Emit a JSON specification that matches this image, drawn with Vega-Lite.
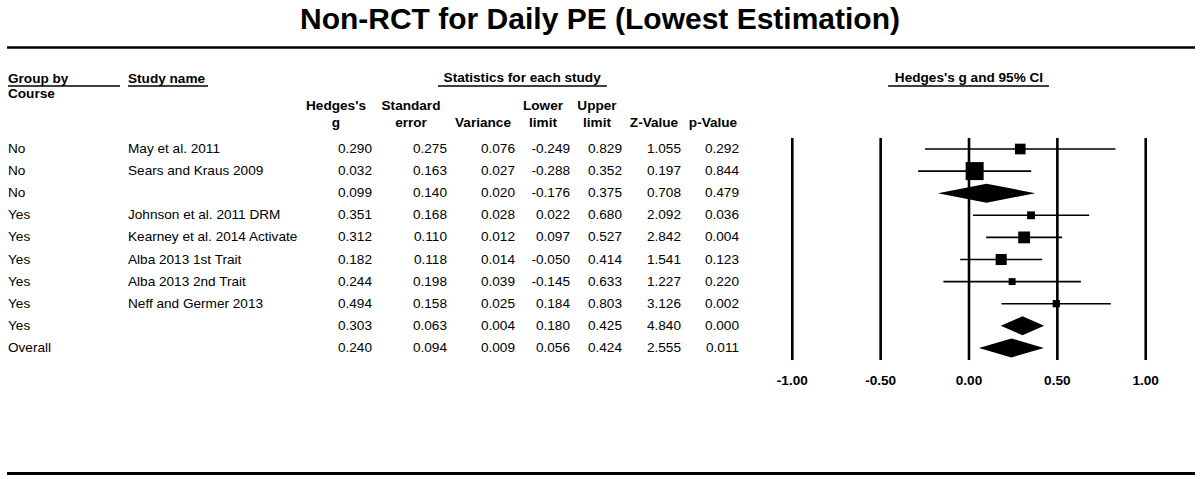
{
  "$schema": "https://vega.github.io/schema/vega-lite/v6.json",
  "width": 1200,
  "height": 479,
  "autosize": {"type": "fit", "contains": "padding"},
  "padding": 0,
  "background": "white",
  "config": {
    "view": {"stroke": null},
    "locale": {"number": {"decimal": ".", "thousands": ",", "grouping": [3], "currency": ["$", ""], "minus": "-"}},
    "text": {"font": "Liberation Sans", "fontSize": 13.6, "color": "#000000"}
  },
  "datasets": {
    "studies": [
      {"row": 1, "course": "No", "study": "May et al. 2011", "g": 0.290, "se": 0.275, "var": 0.076, "lower": -0.249, "upper": 0.829, "z": 1.055, "p": 0.292, "type": "study", "weight": 26},
      {"row": 2, "course": "No", "study": "Sears and Kraus 2009", "g": 0.032, "se": 0.163, "var": 0.027, "lower": -0.288, "upper": 0.352, "z": 0.197, "p": 0.844, "type": "study", "weight": 74},
      {"row": 3, "course": "No", "study": "", "g": 0.099, "se": 0.140, "var": 0.020, "lower": -0.176, "upper": 0.375, "z": 0.708, "p": 0.479, "type": "summary", "weight": null},
      {"row": 4, "course": "Yes", "study": "Johnson et al. 2011 DRM", "g": 0.351, "se": 0.168, "var": 0.028, "lower": 0.022, "upper": 0.680, "z": 2.092, "p": 0.036, "type": "study", "weight": 14},
      {"row": 5, "course": "Yes", "study": "Kearney et al. 2014 Activate", "g": 0.312, "se": 0.110, "var": 0.012, "lower": 0.097, "upper": 0.527, "z": 2.842, "p": 0.004, "type": "study", "weight": 32},
      {"row": 6, "course": "Yes", "study": "Alba 2013 1st Trait", "g": 0.182, "se": 0.118, "var": 0.014, "lower": -0.050, "upper": 0.414, "z": 1.541, "p": 0.123, "type": "study", "weight": 28},
      {"row": 7, "course": "Yes", "study": "Alba 2013 2nd Trait", "g": 0.244, "se": 0.198, "var": 0.039, "lower": -0.145, "upper": 0.633, "z": 1.227, "p": 0.220, "type": "study", "weight": 11},
      {"row": 8, "course": "Yes", "study": "Neff and Germer 2013", "g": 0.494, "se": 0.158, "var": 0.025, "lower": 0.184, "upper": 0.803, "z": 3.126, "p": 0.002, "type": "study", "weight": 12},
      {"row": 9, "course": "Yes", "study": "", "g": 0.303, "se": 0.063, "var": 0.004, "lower": 0.180, "upper": 0.425, "z": 4.840, "p": 0.000, "type": "summary", "weight": null},
      {"row": 10, "course": "Overall", "study": "", "g": 0.240, "se": 0.094, "var": 0.009, "lower": 0.056, "upper": 0.424, "z": 2.555, "p": 0.011, "type": "summary", "weight": null}
    ],
    "columns": [
      {"col": "course", "idx": 0, "h1": "Group by", "h2": "Course"},
      {"col": "study", "idx": 1, "h1": "Study name", "h2": ""},
      {"col": "g", "idx": 2, "h1": "Hedges's", "h2": "g"},
      {"col": "se", "idx": 3, "h1": "Standard", "h2": "error"},
      {"col": "var", "idx": 4, "h1": "", "h2": "Variance"},
      {"col": "lower", "idx": 5, "h1": "Lower", "h2": "limit"},
      {"col": "upper", "idx": 6, "h1": "Upper", "h2": "limit"},
      {"col": "z", "idx": 7, "h1": "", "h2": "Z-Value"},
      {"col": "p", "idx": 8, "h1": "", "h2": "p-Value"}
    ],
    "ticks": [{"g": -1}, {"g": -0.5}, {"g": 0}, {"g": 0.5}, {"g": 1}]
  },
  "layer": [
    {
      "layer": [
        {
          "data": {"name": "studies"},
          "transform": [
            {"fold": ["course", "study"], "as": ["col", "txt"]},
            {"lookup": "col", "from": {"data": {"name": "columns"}, "key": "col", "fields": ["idx"]}}
          ],
          "mark": {"type": "text", "align": "left", "baseline": "middle"},
          "encoding": {
            "x": {"field": "idx", "type": "quantitative", "axis": null, "scale": {"type": "linear", "domain": [0, 1, 2, 3, 4, 5, 6, 7, 8], "range": [8, 128, 372, 447, 515, 570, 622, 681, 739], "nice": false, "zero": false}},
            "y": {"field": "row", "type": "quantitative", "axis": null, "scale": {"domain": [-5.742, 15.932], "reverse": true, "nice": false, "zero": false}},
            "text": {"field": "txt", "type": "nominal"}
          }
        },
        {
          "data": {"name": "studies"},
          "transform": [
            {"fold": ["g", "se", "var", "lower", "upper", "z", "p"], "as": ["col", "val"]},
            {"lookup": "col", "from": {"data": {"name": "columns"}, "key": "col", "fields": ["idx"]}}
          ],
          "mark": {"type": "text", "align": "right", "baseline": "middle"},
          "encoding": {
            "x": {"field": "idx", "type": "quantitative", "axis": null},
            "y": {"field": "row", "type": "quantitative", "axis": null},
            "text": {"field": "val", "type": "quantitative", "format": ".3f"}
          }
        },
        {
          "data": {"name": "columns"},
          "transform": [{"filter": "datum.idx < 2"}],
          "mark": {"type": "text", "align": "left", "baseline": "middle", "fontWeight": "bold"},
          "encoding": {
            "x": {"field": "idx", "type": "quantitative", "axis": null},
            "y": {"datum": -2.176, "type": "quantitative", "axis": null},
            "text": {"field": "h1", "type": "nominal"}
          }
        },
        {
          "data": {"name": "columns"},
          "transform": [{"filter": "datum.idx < 2"}],
          "mark": {"type": "text", "align": "left", "baseline": "middle", "fontWeight": "bold"},
          "encoding": {
            "x": {"field": "idx", "type": "quantitative", "axis": null},
            "y": {"datum": -1.484, "type": "quantitative", "axis": null},
            "text": {"field": "h2", "type": "nominal"}
          }
        },
        {
          "data": {"values": [{}]},
          "mark": {"type": "rule", "color": "#000000", "strokeWidth": 1.3, "x2Offset": -8},
          "encoding": {
            "x": {"datum": 0, "type": "quantitative", "axis": null},
            "x2": {"datum": 1},
            "y": {"datum": -1.85, "type": "quantitative", "axis": null}
          }
        },
        {
          "data": {"values": [{}]},
          "mark": {"type": "rule", "color": "#000000", "strokeWidth": 1.3, "x2Offset": 80},
          "encoding": {
            "x": {"datum": 1, "type": "quantitative", "axis": null},
            "x2": {"datum": 1},
            "y": {"datum": -1.85, "type": "quantitative", "axis": null}
          }
        },
        {
          "data": {"values": [{}]},
          "mark": {"type": "text", "text": "Statistics for each study", "align": "center", "baseline": "middle", "fontWeight": "bold"},
          "encoding": {
            "x": {"datum": 4.13, "type": "quantitative", "axis": null},
            "y": {"datum": -2.19, "type": "quantitative", "axis": null}
          }
        },
        {
          "data": {"values": [{}]},
          "mark": {"type": "rule", "color": "#000000", "strokeWidth": 1.3},
          "encoding": {
            "x": {"datum": 2.88, "type": "quantitative", "axis": null},
            "x2": {"datum": 5.71},
            "y": {"datum": -1.85, "type": "quantitative", "axis": null}
          }
        }
      ]
    },
    {
      "layer": [
        {
          "data": {"name": "columns"},
          "transform": [{"filter": "datum.idx >= 2"}],
          "mark": {"type": "text", "align": "center", "baseline": "middle", "fontWeight": "bold"},
          "encoding": {
            "x": {"field": "idx", "type": "quantitative", "axis": null, "scale": {"type": "linear", "domain": [2, 3, 4, 5, 6, 7, 8], "range": [336, 411, 483, 543, 597, 654, 713], "nice": false, "zero": false}},
            "y": {"datum": -0.955, "type": "quantitative", "axis": null},
            "text": {"field": "h1", "type": "nominal"}
          }
        },
        {
          "data": {"name": "columns"},
          "transform": [{"filter": "datum.idx >= 2"}],
          "mark": {"type": "text", "align": "center", "baseline": "middle", "fontWeight": "bold"},
          "encoding": {
            "x": {"field": "idx", "type": "quantitative", "axis": null},
            "y": {"datum": -0.19, "type": "quantitative", "axis": null},
            "text": {"field": "h2", "type": "nominal"}
          }
        }
      ]
    },
    {
      "layer": [
        {
          "data": {"name": "ticks"},
          "mark": {"type": "rule", "color": "#000000", "strokeWidth": 2.6},
          "encoding": {
            "x": {"field": "g", "type": "quantitative", "axis": null, "scale": {"domain": [-1, 1], "range": [792.3, 1145.7], "nice": false, "zero": false}},
            "y": {"datum": 0.5, "type": "quantitative", "axis": null},
            "y2": {"datum": 10.55}
          }
        },
        {
          "data": {"name": "ticks"},
          "mark": {"type": "text", "align": "center", "baseline": "middle", "fontWeight": "bold"},
          "encoding": {
            "x": {"field": "g", "type": "quantitative", "axis": null},
            "y": {"datum": 11.49, "type": "quantitative", "axis": null},
            "text": {"field": "g", "type": "quantitative", "format": ".2f"}
          }
        },
        {
          "data": {"name": "studies"},
          "transform": [{"filter": "datum.type === 'study'"}],
          "mark": {"type": "rule", "color": "#000000", "strokeWidth": 1.6},
          "encoding": {
            "x": {"field": "lower", "type": "quantitative", "axis": null},
            "x2": {"field": "upper"},
            "y": {"field": "row", "type": "quantitative", "axis": null}
          }
        },
        {
          "data": {"name": "studies"},
          "transform": [{"filter": "datum.type === 'study'"}],
          "mark": {"type": "point", "shape": "square", "filled": true, "color": "#000000", "opacity": 1, "strokeWidth": 0},
          "encoding": {
            "x": {"field": "g", "type": "quantitative", "axis": null},
            "y": {"field": "row", "type": "quantitative", "axis": null},
            "size": {"field": "weight", "type": "quantitative", "legend": null, "scale": {"domain": [0, 74], "range": [0, 324], "zero": true}}
          }
        },
        {
          "data": {"name": "studies"},
          "transform": [
            {"filter": "datum.type === 'summary'"},
            {"fold": ["lower", "g", "upper"], "as": ["vertex", "xv"]}
          ],
          "mark": {
            "type": "area",
            "orient": "vertical",
            "color": "#000000",
            "opacity": 1,
            "yOffset": {"expr": "datum.vertex === 'g' ? -9.5 : 0"},
            "y2Offset": {"expr": "datum.vertex === 'g' ? 9.5 : 0"}
          },
          "encoding": {
            "x": {"field": "xv", "type": "quantitative", "axis": null},
            "y": {"field": "row", "type": "quantitative", "axis": null},
            "y2": {"field": "row"},
            "detail": {"field": "row", "type": "nominal"}
          }
        },
        {
          "data": {"values": [{}]},
          "mark": {"type": "text", "text": "Hedges's g and 95% CI", "align": "center", "baseline": "middle", "fontWeight": "bold"},
          "encoding": {
            "x": {"datum": 0, "type": "quantitative", "axis": null},
            "y": {"datum": -2.19, "type": "quantitative", "axis": null}
          }
        },
        {
          "data": {"values": [{}]},
          "mark": {"type": "rule", "color": "#000000", "strokeWidth": 1.3},
          "encoding": {
            "x": {"datum": -0.458, "type": "quantitative", "axis": null},
            "x2": {"datum": 0.453},
            "y": {"datum": -1.85, "type": "quantitative", "axis": null}
          }
        },
        {
          "data": {"values": [{}]},
          "mark": {"type": "text", "text": "Non-RCT for Daily PE (Lowest Estimation)", "align": "center", "baseline": "middle", "fontWeight": "bold", "fontSize": 30},
          "encoding": {
            "y": {"datum": -4.85, "type": "quantitative", "axis": null}
          }
        },
        {
          "data": {"values": [{}]},
          "mark": {"type": "rule", "color": "#000000", "strokeWidth": 2.6},
          "encoding": {
            "x": {"datum": -5.444, "type": "quantitative", "axis": null},
            "x2": {"datum": 1.279},
            "y": {"datum": -3.593, "type": "quantitative", "axis": null}
          }
        },
        {
          "data": {"values": [{}]},
          "mark": {"type": "rule", "color": "#000000", "strokeWidth": 3},
          "encoding": {
            "x": {"datum": -5.444, "type": "quantitative", "axis": null},
            "x2": {"datum": 1.279},
            "y": {"datum": 15.683, "type": "quantitative", "axis": null}
          }
        }
      ]
    }
  ],
  "resolve": {"scale": {"x": "independent"}}
}
